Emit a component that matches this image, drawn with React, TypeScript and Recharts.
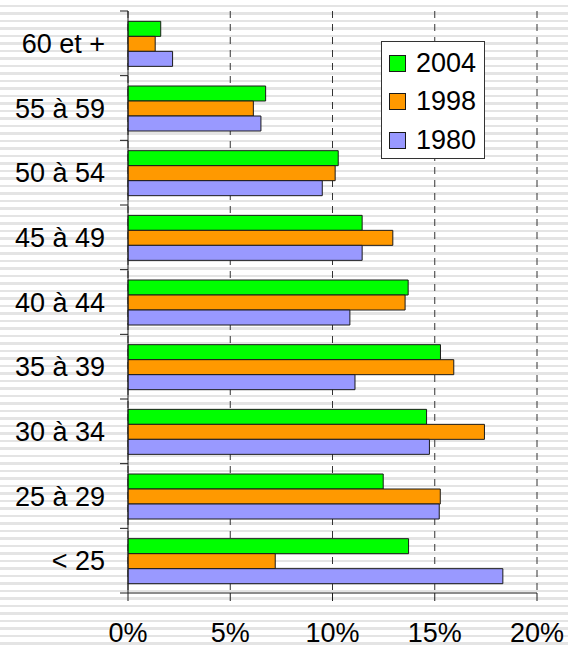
import { BarChart, Bar, XAxis, YAxis, CartesianGrid, Legend } from 'recharts';

const AGE_GROUPS = ['60 et +', '55 à 59', '50 à 54', '45 à 49', '40 à 44', '35 à 39', '30 à 34', '25 à 29', '< 25'];
const SHARE_2004 = [1.6, 6.73, 10.28, 11.45, 13.7, 15.28, 14.6, 12.48, 13.72];
const SHARE_1998 = [1.33, 6.13, 10.13, 12.95, 13.55, 15.93, 17.43, 15.27, 7.2];
const SHARE_1980 = [2.18, 6.5, 9.5, 11.45, 10.85, 11.1, 14.74, 15.22, 18.33];
const PCT_TICKS = [0, 5, 10, 15, 20];

const data = AGE_GROUPS.map((age, i) => ({
  age,
  y2004: SHARE_2004[i],
  y1998: SHARE_1998[i],
  y1980: SHARE_1980[i],
}));

const FONT = '"Liberation Sans", Arial, sans-serif';
const INK = '#1a1a1a';

// category label + a tick mark on the band boundary (above, and below for the last one)
const AgeTick = (props: any) => {
  const { x, y, payload, index } = props;
  const half = payload?.offset || 32.3;
  const axisX = x + 23;
  return (
    <g>
      <text x={x} y={y} dy="0.355em" textAnchor="end" fontSize={27} fontFamily={FONT} fill="#000">
        {payload.value}
      </text>
      <line x1={axisX - 8} x2={axisX} y1={y - half} y2={y - half} stroke={INK} />
      {index === AGE_GROUPS.length - 1 && (
        <line x1={axisX - 8} x2={axisX} y1={y + half} y2={y + half} stroke={INK} />
      )}
    </g>
  );
};

const LegendBox = ({ payload }: any) => {
  const items = [...(payload || [])].sort((a: any, b: any) => String(b.value).localeCompare(String(a.value)));
  return (
    <div style={{ border: '1px solid #333', background: '#fff', width: 102, height: 114, paddingTop: 2, boxSizing: 'content-box' }}>
      {items.map((p: any) => (
        <div key={p.value} style={{ display: 'flex', alignItems: 'center', height: 38.5 }}>
          <span style={{ width: 15, height: 15, background: p.color, border: `1px solid ${INK}`, marginLeft: 7, marginRight: 10 }} />
          <span style={{ fontSize: 27, fontFamily: FONT, color: '#000', lineHeight: 1 }}>{p.value}</span>
        </div>
      ))}
    </div>
  );
};

export default function App() {
  return (
    <div
      style={{
        position: 'absolute',
        left: 0,
        top: 0,
        width: 568,
        height: 646,
        background: 'repeating-linear-gradient(to bottom, #ffffff 0px, #ffffff 5px, #e4e4e4 5px, #e4e4e4 7.5px)',
      }}
    >
      <BarChart
        width={568}
        height={646}
        data={data}
        layout="vertical"
        margin={{ top: 11, right: 31, bottom: 0, left: 0 }}
        barCategoryGap="16%"
        barGap={0}
      >
        <CartesianGrid horizontal={false} stroke="#333" strokeDasharray="7 6" />
        <XAxis
          type="number"
          domain={[0, 20]}
          ticks={PCT_TICKS}
          tickFormatter={(v) => `${v}%`}
          height={53}
          tickSize={8}
          tickMargin={22}
          stroke={INK}
          tick={{ fontSize: 27, fontFamily: FONT, fill: '#000' }}
          interval={0}
        />
        <YAxis
          type="category"
          dataKey="age"
          width={128}
          tickLine={false}
          tickSize={8}
          tickMargin={15}
          stroke={INK}
          tick={<AgeTick />}
          interval={0}
        />
        <Legend
          layout="vertical"
          align="center"
          verticalAlign="middle"
          content={<LegendBox />}
          wrapperStyle={{ left: 381, top: 41, width: 104, height: 116 }}
        />
        <Bar dataKey="y2004" name="2004" fill="#00ff00" stroke={INK} strokeWidth={1} isAnimationActive={false} />
        <Bar dataKey="y1998" name="1998" fill="#ff9900" stroke={INK} strokeWidth={1} isAnimationActive={false} />
        <Bar dataKey="y1980" name="1980" fill="#9999ff" stroke={INK} strokeWidth={1} isAnimationActive={false} />
      </BarChart>
    </div>
  );
}
